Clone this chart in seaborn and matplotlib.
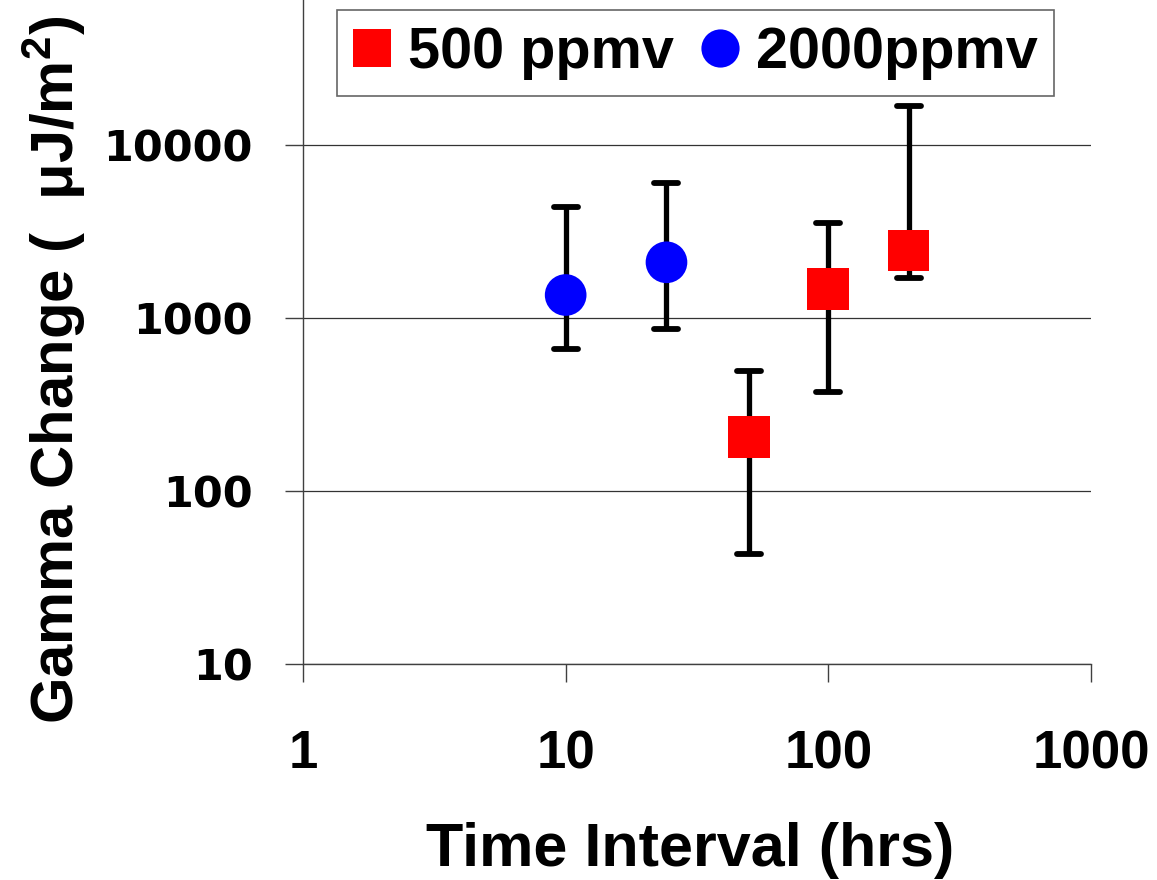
import matplotlib
matplotlib.use("Agg")
import matplotlib.pyplot as plt
import seaborn as sns
import pandas as pd
import numpy as np
from matplotlib.lines import Line2D
from matplotlib.markers import MarkerStyle

# ---- data ----
series_labels = ["500 ppmv", "2000ppmv"]
series_colors = ["#FF0000", "#0000FF"]
series_markers = ["s", "o"]

time_500 = [50, 100, 202]
gamma_500 = [205, 1466, 2455]
low_500 = [43, 373, 1710]
high_500 = [494, 3557, 16800]

time_2000 = [10, 24.2]
gamma_2000 = [1358, 2099]
low_2000 = [662, 867]
high_2000 = [4395, 6010]

x_ticks = [1, 10, 100, 1000]
x_tick_labels = ["1", "10", "100", "1000"]
y_ticks = [10, 100, 1000, 10000]
y_tick_labels = ["10", "100", "1000", "10000"]

x_label = "Time Interval (hrs)"
y_label = "Gamma Change (  \u03bcJ/m$^{2}$)"

df = pd.DataFrame({
    "time": time_500 + time_2000,
    "gamma": gamma_500 + gamma_2000,
    "low": low_500 + low_2000,
    "high": high_500 + high_2000,
    "series": [series_labels[0]] * len(time_500) + [series_labels[1]] * len(time_2000),
})

# ---- style ----
sns.set_theme(style="white")
plt.rcParams["font.family"] = ["Liberation Sans", "DejaVu Sans"]
plt.rcParams["font.weight"] = "bold"
plt.rcParams["text.color"] = "black"
plt.rcParams["axes.labelcolor"] = "black"
plt.rcParams["xtick.color"] = "black"
plt.rcParams["ytick.color"] = "black"
plt.rcParams["mathtext.fontset"] = "custom"
plt.rcParams["mathtext.rm"] = "Liberation Sans:bold"
plt.rcParams["mathtext.bf"] = "Liberation Sans:bold"
plt.rcParams["mathtext.it"] = "Liberation Sans:bold"

W, H = 1157, 880
fig = plt.figure(figsize=(W / 100, H / 100), dpi=100)
ax = fig.add_axes([303 / W, 216 / H, 788 / W, 664 / H])
ax.set_xscale("log")
ax.set_yscale("log")

# error bars
yerr = np.array([df["gamma"] - df["low"], df["high"] - df["gamma"]])
eb = ax.errorbar(df["time"], df["gamma"], yerr=yerr, fmt="none", ecolor="black",
                 elinewidth=3.8, capsize=8.5, capthick=4.2, zorder=2)
for cap in eb[1]:
    cap.set_marker(MarkerStyle("_", capstyle="round"))
    cap.set_markersize(17)

# markers
sns.scatterplot(data=df, x="time", y="gamma", hue="series", style="series",
                hue_order=series_labels, style_order=series_labels,
                palette=dict(zip(series_labels, series_colors)),
                markers=dict(zip(series_labels, series_markers)),
                s=900, linewidth=0, legend=False, ax=ax, zorder=3)

ax.set_xlim(1, 1000)
ax.set_ylim(10, 10 ** (1 + 664 / 173))
ax.minorticks_off()
ax.set_xticks(x_ticks)
ax.set_xticklabels(x_tick_labels, fontfamily="Liberation Sans", fontweight="bold")
ax.set_yticks(y_ticks)
ax.set_yticklabels(y_tick_labels, fontfamily="DejaVu Sans", fontweight="bold")

spine_col = "#404040"
for s in ["top", "right"]:
    ax.spines[s].set_visible(False)
for s in ["left", "bottom"]:
    ax.spines[s].set_color(spine_col)
    ax.spines[s].set_linewidth(1.0)

ax.tick_params(axis="x", bottom=True, direction="out", length=13, width=1.0,
               color=spine_col, labelcolor="black", pad=34, labelsize=38)
ax.tick_params(axis="y", left=True, direction="out", length=13, width=1.0,
               color=spine_col, labelcolor="black", pad=23, labelsize=31)

ax.yaxis.grid(True, color="#333333", linewidth=0.9)
ax.xaxis.grid(False)
ax.set_axisbelow(True)

ax.set_xlabel(x_label, fontsize=44, fontweight="bold", color="black")
ax.set_ylabel(y_label, fontsize=43, fontweight="bold", color="black")
ax.xaxis.set_label_coords((690 - 303) / 788, -(822 - 664) / 664)
ax.yaxis.set_label_coords((88 - 303) / 788, (664 - 370) / 664)

# legend
handles = [Line2D([0], [0], marker=m, ls="", markerfacecolor=c, markeredgewidth=0,
                  color=c, markersize=27.5)
           for m, c in zip(series_markers, series_colors)]
leg = fig.legend(handles, series_labels, loc="upper left",
                 bbox_to_anchor=(337 / W, 1 - 10 / H), ncol=2, frameon=True,
                 fancybox=False, shadow=False, borderaxespad=0,
                 prop={"family": "Liberation Sans", "weight": "bold", "size": 41.5},
                 handlelength=0.66, handletextpad=0.30, columnspacing=0.46,
                 borderpad=0.28)
leg.get_frame().set_edgecolor("#404040")
leg.get_frame().set_linewidth(1.2)
leg.get_frame().set_facecolor("white")
for t in leg.get_texts():
    t.set_color("black")

fig.savefig("out.png", dpi=100)
